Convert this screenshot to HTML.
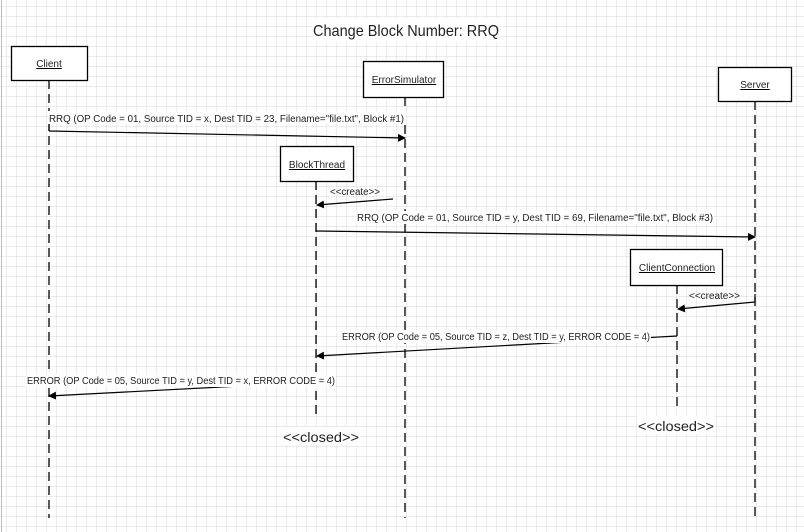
<!DOCTYPE html>
<html><head><meta charset="utf-8"><style>
html,body{margin:0;padding:0;background:#fff}
svg{display:block}
text{font-family:"Liberation Sans",sans-serif;fill:#222}
</style></head><body>
<svg width="804" height="532" viewBox="0 0 804 532" xmlns="http://www.w3.org/2000/svg">
<defs>
<pattern id="g" x="6.5" y="6.5" width="10" height="10" patternUnits="userSpaceOnUse">
<path d="M0 0H10M0 0V10" stroke="#d9d9d9" stroke-width="1" fill="none"/>
</pattern>
<marker id="a" markerWidth="8" markerHeight="8" refX="7" refY="4" orient="auto" markerUnits="userSpaceOnUse">
<path d="M0 0L8 4L0 8Z" fill="#000"/>
</marker>
</defs>
<rect width="804" height="532" fill="#fff"/>
<rect width="804" height="532" fill="url(#g)"/>
<line x1="1.5" y1="0" x2="1.5" y2="532" stroke="#bbb"/>
<rect x="312" y="18" width="188" height="24" fill="#fff"/>
<text x="406" y="36" font-size="16" text-anchor="middle" textLength="186" lengthAdjust="spacingAndGlyphs">Change Block Number: RRQ</text>

<g stroke="#000" stroke-width="1.3" stroke-dasharray="9,5" fill="none">
<line x1="49" y1="80" x2="49" y2="518"/>
<line x1="405" y1="97" x2="405" y2="518"/>
<line x1="755" y1="101" x2="755" y2="518"/>
<line x1="316" y1="181" x2="316" y2="418"/>
<line x1="677" y1="285" x2="677" y2="410"/>
</g>

<g fill="#fff" stroke="#000" stroke-width="1.3">
<rect x="11.5" y="46.5" width="76" height="34"/>
<rect x="363.5" y="61.5" width="80" height="36"/>
<rect x="718.5" y="67.5" width="73" height="34"/>
<rect x="280.5" y="146.5" width="73" height="35"/>
<rect x="630.5" y="249.5" width="92" height="36"/>
</g>
<g font-size="10" text-anchor="middle" text-decoration="underline">
<text x="49" y="67">Client</text>
<text x="404" y="83">ErrorSimulator</text>
<text x="755" y="88">Server</text>
<text x="317" y="168">BlockThread</text>
<text x="677" y="271">ClientConnection</text>
</g>

<g stroke="#000" stroke-width="1.2" fill="none" marker-end="url(#a)">
<line x1="49" y1="131" x2="405" y2="138"/>
<line x1="393" y1="199" x2="317" y2="205"/>
<line x1="316" y1="231" x2="755" y2="237"/>
<line x1="755" y1="302" x2="678" y2="309"/>
<line x1="677" y1="336" x2="317" y2="356"/>
<line x1="260" y1="385" x2="49" y2="396"/>
</g>
<line x1="49" y1="124" x2="49" y2="131" stroke="#000" stroke-width="1.2"/>
<line x1="755" y1="294" x2="755" y2="302" stroke="#000" stroke-width="1.2"/>

<g font-size="10">
<rect x="48" y="111" width="358" height="13" fill="#fff"/>
<text x="49" y="122" textLength="355" lengthAdjust="spacingAndGlyphs">RRQ (OP Code = 01, Source TID = x, Dest TID = 23, Filename="file.txt", Block #1)</text>
<text x="330" y="195" textLength="50" lengthAdjust="spacingAndGlyphs">&lt;&lt;create&gt;&gt;</text>
<rect x="356" y="211" width="358" height="13" fill="#fff"/>
<text x="357" y="221" textLength="356" lengthAdjust="spacingAndGlyphs">RRQ (OP Code = 01, Source TID = y, Dest TID = 69, Filename="file.txt", Block #3)</text>
<text x="689" y="299" textLength="51" lengthAdjust="spacingAndGlyphs">&lt;&lt;create&gt;&gt;</text>
<rect x="341" y="330" width="310" height="13" fill="#fff"/>
<text x="342" y="340" textLength="308" lengthAdjust="spacingAndGlyphs">ERROR (OP Code = 05, Source TID = z, Dest TID = y, ERROR CODE = 4)</text>
<rect x="26" y="374" width="310" height="13" fill="#fff"/>
<text x="27" y="384" textLength="308" lengthAdjust="spacingAndGlyphs">ERROR (OP Code = 05, Source TID = y, Dest TID = x, ERROR CODE = 4)</text>
</g>
<g font-size="14">
<rect x="282" y="427" width="78" height="18" fill="#fff"/>
<text x="283" y="442" textLength="76" lengthAdjust="spacingAndGlyphs">&lt;&lt;closed&gt;&gt;</text>
<rect x="637" y="416" width="78" height="18" fill="#fff"/>
<text x="638" y="431" textLength="76" lengthAdjust="spacingAndGlyphs">&lt;&lt;closed&gt;&gt;</text>
</g>
</svg>
</body></html>
